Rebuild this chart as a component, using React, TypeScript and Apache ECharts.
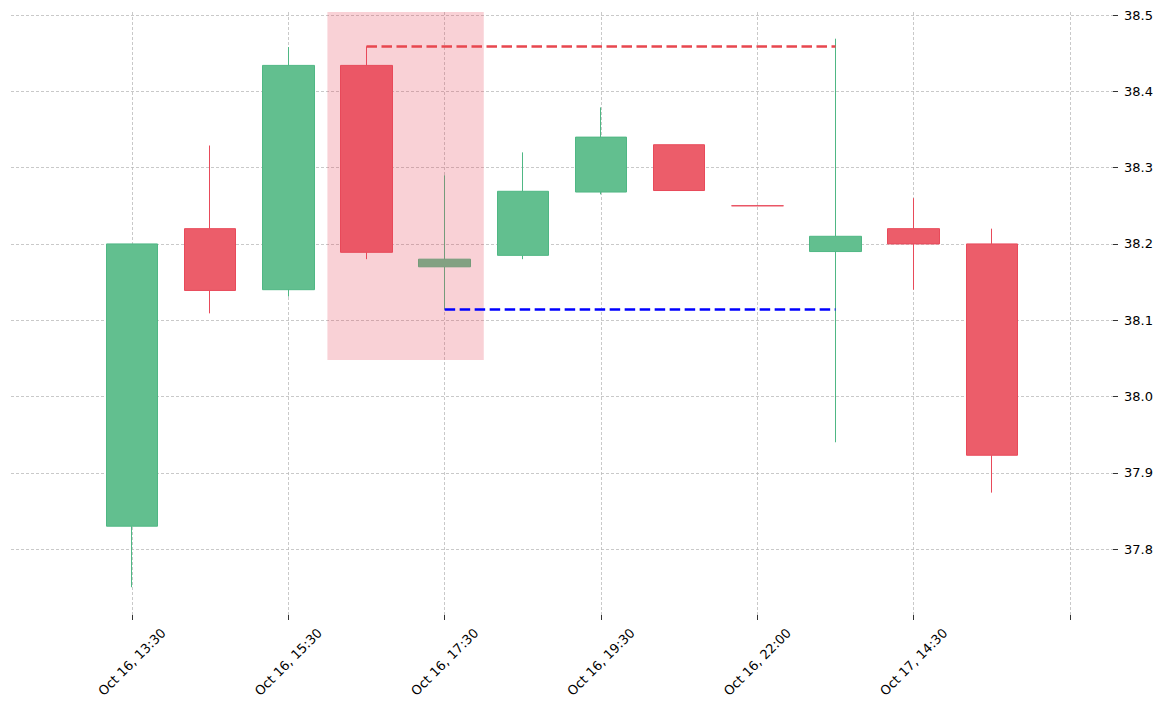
import { useEffect, useRef } from 'react'

import * as echarts from 'echarts'

const categories = [
  'Oct 16, 13:30',
  'Oct 16, 14:30',
  'Oct 16, 15:30',
  'Oct 16, 16:30',
  'Oct 16, 17:30',
  'Oct 16, 18:30',
  'Oct 16, 19:30',
  'Oct 16, 20:30',
  'Oct 16, 22:00',
  'Oct 16, 23:00',
  'Oct 17, 14:30',
  'Oct 17, 15:30',
  '',
]

const opens = [37.83, 38.22, 38.14, 38.434, 38.17, 38.185, 38.268, 38.33, 38.25, 38.19, 38.22, 38.2]
const closes = [38.2, 38.139, 38.434, 38.189, 38.18, 38.269, 38.34, 38.27, 38.25, 38.21, 38.2, 37.923]
const lows = [37.75, 38.109, 38.131, 38.18, 38.114, 38.18, 38.265, 38.27, 38.25, 37.94, 38.14, 37.874]
const highs = [38.2, 38.329, 38.458, 38.459, 38.29, 38.32, 38.379, 38.33, 38.25, 38.469, 38.26, 38.22]

const yTicks = [37.8, 37.9, 38.0, 38.1, 38.2, 38.3, 38.4, 38.5]
const yMin = 37.7136
const yMax = 38.504

// levels: [value, from candle, to candle]
const resistance = [38.459, 3, 9]
const support = [38.114, 4, 9]
// highlighted zone: [from, to, bottom]
const zone = [2.5, 4.5, 38.048]

const GREEN = '#62bf8f'
const GREEN_EDGE = '#4fb784'
const RED = '#ec5d6a'
const RED_EDGE = '#e84a5a'

export default function App() {
  const main = useRef(null)
  useEffect(() => {
    document.body.style.margin = '0'
    const plotTop = 12
    const plotBottom = 615
    const frameLeft = 11
    const frameRight = 1113
    const firstX = 132
    const lastX = 1070
    const W = 1171
    const H = 711
    const step = (lastX - firstX) / (categories.length - 1)

    const candles = opens.map((o, i) => [o, closes[i], lows[i], highs[i]])
    const gridLine = { color: '#bbbbbb', width: 0.8, type: [3, 2] }

    const option = {
      animation: false,
      grid: [
        { left: firstX, right: W - lastX, top: plotTop, bottom: H - plotBottom },
        { left: frameLeft, right: W - frameRight, top: plotTop, bottom: H - plotBottom },
      ],
      xAxis: [
        {
          type: 'category',
          gridIndex: 0,
          data: categories,
          boundaryGap: false,
          axisLine: { show: false, onZero: false },
          axisTick: { show: true, interval: 1, length: 5, lineStyle: { color: '#333' } },
          axisLabel: {
            interval: 1,
            rotate: 45,
            align: 'center',
            verticalAlign: 'middle',
            margin: 47,
            fontFamily: 'DejaVu Sans',
            fontSize: 13,
            color: '#000',
          },
          splitLine: { show: true, interval: 1, lineStyle: gridLine },
        },
        {
          type: 'value',
          gridIndex: 1,
          min: (frameLeft - firstX) / step,
          max: (frameRight - firstX) / step,
          show: false,
          splitLine: { show: false },
        },
      ],
      yAxis: [
        {
          type: 'value',
          gridIndex: 0,
          min: yMin,
          max: yMax,
          show: false,
          splitLine: { show: false },
        },
        {
          type: 'value',
          gridIndex: 1,
          position: 'right',
          min: yMin,
          max: yMax,
          axisLine: { show: false, onZero: false },
          axisTick: { show: true, length: 5, customValues: yTicks, lineStyle: { color: '#333' } },
          axisLabel: {
            customValues: yTicks,
            formatter: (v: number) => v.toFixed(1),
            margin: 11,
            fontFamily: 'DejaVu Sans',
            fontSize: 13,
            color: '#000',
          },
          splitLine: { show: true, lineStyle: gridLine },
        },
      ],
      series: [
        {
          type: 'candlestick',
          xAxisIndex: 0,
          yAxisIndex: 0,
          data: candles,
          barWidth: 52,
          z: 2,
          itemStyle: {
            color: GREEN,
            color0: RED,
            borderColor: GREEN_EDGE,
            borderColor0: RED_EDGE,
            borderColorDoji: RED_EDGE,
            borderWidth: 1,
          },
          markLine: {
            silent: true,
            symbol: 'none',
            label: { show: false },
            z: 5,
            data: [
              [
                { coord: [resistance[1], resistance[0]], lineStyle: { color: '#e8474f', width: 2.6, type: [10.5, 4.5] } },
                { coord: [resistance[2], resistance[0]] },
              ],
              [
                { coord: [support[1], support[0]], lineStyle: { color: '#0000ff', width: 2.6, type: [10.5, 4.5] } },
                { coord: [support[2], support[0]] },
              ],
            ],
          },
        },
        {
          type: 'custom',
          xAxisIndex: 1,
          yAxisIndex: 1,
          z: 3,
          silent: true,
          data: [zone],
          renderItem: (_params: any, api: any) => {
            const p0 = api.coord([api.value(0), yMax])
            const p1 = api.coord([api.value(1), api.value(2)])
            return {
              type: 'rect',
              shape: { x: p0[0], y: p0[1], width: p1[0] - p0[0], height: p1[1] - p0[1] },
              style: { fill: 'rgba(232,71,90,0.25)' },
            }
          },
        },
      ],
    }
    const myCharts = echarts.init(main.current, null, { renderer: 'svg' })
    myCharts.setOption(option)
    return () => {
      myCharts.dispose()
    }
  }, [])
  return (
    <>
      <div ref={main} style={{ width: '1171px', height: '711px' }}></div>
    </>
  )
}
